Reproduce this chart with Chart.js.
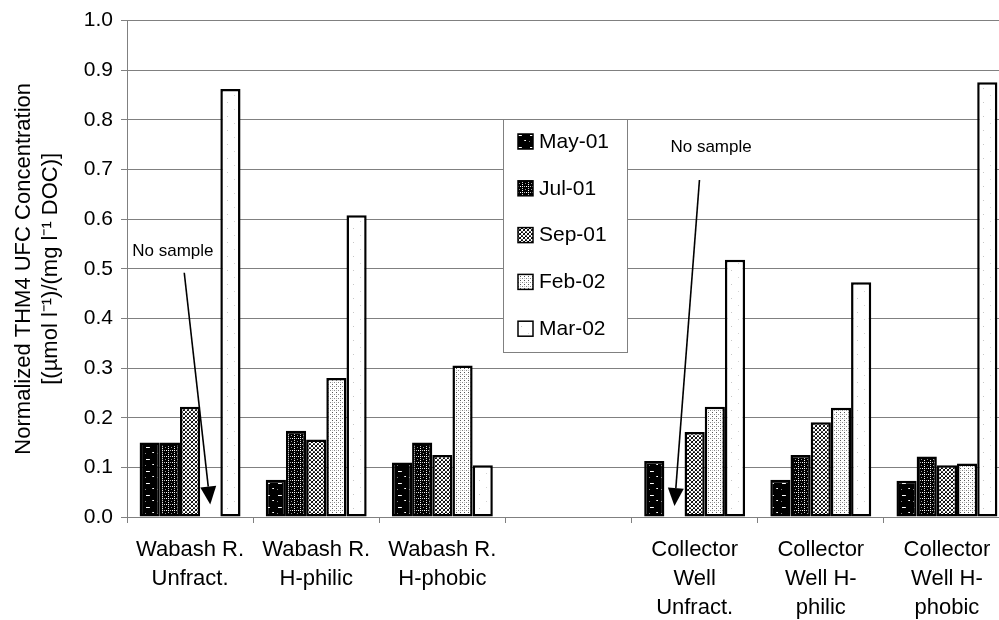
<!DOCTYPE html>
<html>
<head>
<meta charset="utf-8">
<title>THM4 UFC</title>
<script src="https://cdn.jsdelivr.net/npm/chart.js@4.4.0/dist/chart.umd.min.js"></script>
<style>
  html, body { margin: 0; padding: 0; background: #fff; overflow: hidden; }
  canvas { display: block; }
</style>
</head>
<body>
<canvas id="thmChart" width="1010" height="620"></canvas>
<script>
// sampling sites / fractions (blank slot separates the two sites)
const categories = [
    ['Wabash R.', 'Unfract.'],
    ['Wabash R.', 'H-philic'],
    ['Wabash R.', 'H-phobic'],
    '',
    ['Collector', 'Well', 'Unfract.'],
    ['Collector', 'Well H-', 'philic'],
    ['Collector', 'Well H-', 'phobic']
];
const sampleDates = ['May-01', 'Jul-01', 'Sep-01', 'Feb-02', 'Mar-02'];

// normalized THM4 UFC, null = no sample
const may01 = [0.150, 0.075, 0.110, null, 0.113, 0.075, 0.073];
const jul01 = [0.150, 0.174, 0.150, null, null, 0.125, 0.122];
const sep01 = [0.222, 0.156, 0.125, null, 0.171, 0.191, 0.104];
const feb02 = [null, 0.280, 0.305, null, 0.222, 0.220, 0.108];
const mar02 = [0.862, 0.608, 0.104, null, 0.518, 0.473, 0.876];

const yMin = 0;
const yMax = 1.0;
const yStep = 0.1;

const FONT = "'Liberation Sans', Arial, sans-serif";

// small bitmap fills, one per sampling date
function makePattern(size, bg, dots) {
    const c = document.createElement('canvas');
    c.width = size;
    c.height = size;
    const g = c.getContext('2d');
    g.fillStyle = bg;
    g.fillRect(0, 0, size, size);
    dots.forEach(([x, y, col]) => {
        g.fillStyle = col;
        g.fillRect(x, y, 1, 1);
    });
    return document.getElementById('thmChart').getContext('2d').createPattern(c, 'repeat');
}

const fills = [
    // May-01: black with a few light dashes
    makePattern(12, '#000', [[2, 3, '#fff'], [3, 3, '#fff'], [4, 3, '#fff'], [5, 3, '#ddd'],
        [8, 8, '#bbb'], [9, 8, '#fff'], [1, 9, '#888']]),
    // Jul-01: black with a fine white grid
    makePattern(6, '#000', [[0, 0, '#fff'], [0, 2, '#ccc'], [0, 4, '#fff'], [2, 0, '#bbb'],
        [4, 0, '#fff'], [3, 3, '#999']]),
    // Sep-01: grey rings
    makePattern(4, '#fff', [[1, 0, '#000'], [2, 0, '#222'], [0, 1, '#000'], [3, 1, '#333'],
        [0, 2, '#222'], [3, 2, '#000'], [1, 3, '#555'], [2, 3, '#555']]),
    // Feb-02: light stipple
    makePattern(4, '#fff', [[0, 0, '#555'], [2, 2, '#888'], [0, 2, '#bbb']]),
    // Mar-02: nearly white
    makePattern(14, '#fff', [[3, 4, '#c8c8c8'], [10, 11, '#d4d4d4']])
];

const series = [may01, jul01, sep01, feb02, mar02];

// missing samples, pointed out with an arrow
const noSampleNotes = [
    { index: 0, dataset: 3, text: 'No sample', textDx: -78, textValue: 0.535, startDx: -26, startValue: 0.492, tipValue: 0.025 },
    { index: 4, dataset: 1, text: 'No sample', textDx: -4, textValue: 0.745, startDx: 25, startValue: 0.679, tipValue: 0.022 }
];

function slotX(chart, index, dataset) {
    const x = chart.scales.x;
    const catW = x.getPixelForValue(1) - x.getPixelForValue(0);
    const groupW = catW * 0.8;
    const barW = groupW / sampleDates.length;
    return x.getPixelForValue(index) - groupW / 2 + barW * (dataset + 0.5);
}

const notesPlugin = {
    id: 'noSampleNotes',
    afterDatasetsDraw(chart) {
        const ctx = chart.ctx;
        const y = chart.scales.y;
        ctx.save();
        noSampleNotes.forEach(n => {
            const sx = slotX(chart, n.index, n.dataset);
            ctx.fillStyle = '#000';
            ctx.font = '17px ' + FONT;
            ctx.textAlign = 'left';
            ctx.textBaseline = 'middle';
            ctx.fillText(n.text, sx + n.textDx, y.getPixelForValue(n.textValue));

            const x0 = sx + n.startDx, y0 = y.getPixelForValue(n.startValue);
            const x1 = sx, y1 = y.getPixelForValue(n.tipValue);
            const ang = Math.atan2(y1 - y0, x1 - x0);
            const len = 18, half = 8;
            const bx = x1 - len * Math.cos(ang), by = y1 - len * Math.sin(ang);
            ctx.strokeStyle = '#000';
            ctx.lineWidth = 1.6;
            ctx.beginPath();
            ctx.moveTo(x0, y0);
            ctx.lineTo(bx, by);
            ctx.stroke();
            ctx.beginPath();
            ctx.moveTo(x1, y1);
            ctx.lineTo(bx + half * Math.sin(ang), by - half * Math.cos(ang));
            ctx.lineTo(bx - half * Math.sin(ang), by + half * Math.cos(ang));
            ctx.closePath();
            ctx.fill();
        });
        ctx.restore();
    }
};

// boxed legend sitting in the empty middle slot
const legendPlugin = {
    id: 'boxLegend',
    afterDraw(chart, args, opts) {
        const ctx = chart.ctx;
        ctx.save();
        ctx.fillStyle = '#fff';
        ctx.fillRect(opts.left, opts.top, opts.width, opts.height);
        ctx.strokeStyle = '#808080';
        ctx.lineWidth = 1;
        ctx.strokeRect(opts.left + 0.5, opts.top + 0.5, opts.width, opts.height);
        ctx.font = '21px ' + FONT;
        ctx.textAlign = 'left';
        ctx.textBaseline = 'middle';
        chart.data.datasets.forEach((ds, i) => {
            const cy = opts.top + 23 + i * 46.8;
            ctx.fillStyle = ds.backgroundColor;
            ctx.fillRect(opts.left + 15, cy - 8, 15, 15);
            ctx.strokeStyle = '#000';
            ctx.lineWidth = 1.5;
            ctx.strokeRect(opts.left + 15, cy - 8, 15, 15);
            ctx.fillStyle = '#000';
            ctx.fillText(ds.label, opts.left + 36, cy);
        });
        ctx.restore();
    }
};

new Chart(document.getElementById('thmChart'), {
    type: 'bar',
    data: {
        labels: categories,
        datasets: sampleDates.map((d, i) => ({
            label: d,
            data: series[i],
            backgroundColor: fills[i],
            borderColor: '#000',
            borderWidth: 2.5,
            borderSkipped: false,
            categoryPercentage: 0.8,
            barPercentage: 1.0
        }))
    },
    options: {
        responsive: false,
        animation: false,
        layout: { padding: { top: 19, left: 0, right: 0, bottom: 0 } },
        plugins: {
            legend: { display: false },
            tooltip: { enabled: false },
            boxLegend: { left: 503, top: 119, width: 124, height: 233 }
        },
        scales: {
            x: {
                grid: {
                    display: true,
                    drawOnChartArea: false,
                    drawTicks: true,
                    tickLength: 6,
                    color: '#808080'
                },
                border: { color: '#808080', width: 1 },
                ticks: {
                    color: '#000',
                    padding: 13,
                    maxRotation: 0,
                    autoSkip: false,
                    font: { family: FONT, size: 22, lineHeight: 1.3 }
                },
                afterFit(scale) { scale.height = 103; }
            },
            y: {
                min: yMin,
                max: yMax,
                grid: {
                    color: '#808080',
                    tickLength: 6
                },
                border: { color: '#808080', width: 1 },
                ticks: {
                    stepSize: yStep,
                    color: '#000',
                    padding: 8,
                    font: { family: FONT, size: 21 },
                    callback: v => v.toFixed(1)
                },
                title: {
                    display: true,
                    text: ['Normalized THM4 UFC Concentration', '[(µmol l⁻¹)/(mg l⁻¹ DOC)]'],
                    color: '#000',
                    font: { family: FONT, size: 22, lineHeight: 1.22 },
                    padding: { top: 11, bottom: 0 }
                },
                afterFit(scale) { scale.width = 127; }
            }
        }
    },
    plugins: [notesPlugin, legendPlugin]
});
</script>
</body>
</html>
